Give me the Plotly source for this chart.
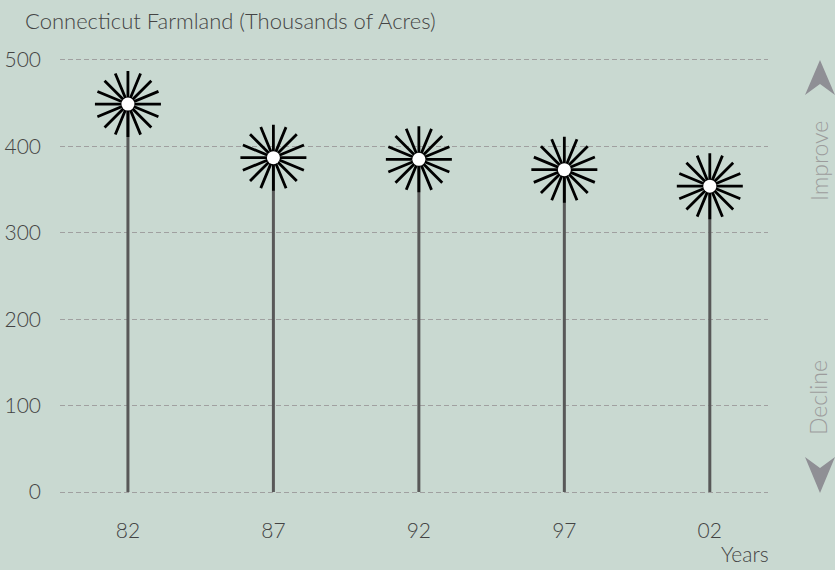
import plotly.graph_objects as go

years = ["82", "87", "92", "97", "02"]
acres = [449, 387, 385, 373, 354]
y_ticks = [0, 100, 200, 300, 400, 500]

BG = "#c9d9d1"
FONT = "Lato"
TXT = "#444444"

L, R, T, B = 60, 67, 58, 76
W, H = 835, 570
pw, ph = W - L - R, H - T - B

def px(x):
    return (x - L) / pw

def py(y):
    return (H - B - y) / ph

fig = go.Figure()

# stems
sx, sy = [], []
for yr, v in zip(years, acres):
    sx += [yr, yr, None]
    sy += [0, v, None]
fig.add_trace(go.Scatter(x=sx, y=sy, mode="lines",
                         line=dict(color="#585858", width=3),
                         hoverinfo="skip", showlegend=False, cliponaxis=False))

# flower rays
for ang in (0, 22.5):
    fig.add_trace(go.Scatter(x=years, y=acres, mode="markers",
                             marker=dict(symbol="asterisk-open", size=55, angle=ang,
                                         color="black",
                                         line=dict(color="black", width=2.8)),
                             showlegend=False, cliponaxis=False))
# center
fig.add_trace(go.Scatter(x=years, y=acres, mode="markers",
                         marker=dict(symbol="circle", size=13, color="white",
                                     line=dict(width=0)),
                         showlegend=False, cliponaxis=False))

shapes = [
    dict(type="path", xref="paper", yref="paper", layer="above",
         path=f"M{px(820)},{py(60)} L{px(805)},{py(95)} L{px(820)},{py(84)} L{px(835)},{py(95)} Z",
         fillcolor="#8f8f95", line=dict(width=0)),
    dict(type="path", xref="paper", yref="paper", layer="above",
         path=f"M{px(820)},{py(493)} L{px(805)},{py(457)} L{px(820)},{py(468)} L{px(835)},{py(457)} Z",
         fillcolor="#8f8f95", line=dict(width=0)),
]

annotations = [
    dict(text="Improve", x=px(819), y=py(161), xref="paper", yref="paper",
         xanchor="center", yanchor="middle",
         showarrow=False, textangle=-90,
         font=dict(family=FONT, size=23, color="#9c9c9c", weight=300)),
    dict(text="Decline", x=px(818), y=py(398), xref="paper", yref="paper",
         xanchor="center", yanchor="middle",
         showarrow=False, textangle=-90,
         font=dict(family=FONT, size=23, color="#9c9c9c", weight=300)),
    dict(text="Years", x=px(745), y=py(553), xref="paper", yref="paper",
         xanchor="center", yanchor="middle",
         showarrow=False, font=dict(family=FONT, size=21, color=TXT, weight=300)),
]

fig.update_layout(
    width=W, height=H,
    margin=dict(l=L, r=R, t=T, b=B, autoexpand=False),
    paper_bgcolor=BG, plot_bgcolor=BG,
    title=dict(text="Connecticut Farmland (Thousands of Acres)",
               xref="container", yref="container", x=25 / W, y=1 - 21 / H,
               xanchor="left", yanchor="middle",
               font=dict(family=FONT, size=22, color=TXT, weight=300)),
    xaxis=dict(type="category", range=[-0.467, 4.40], showgrid=False,
               zeroline=False, showline=False, ticks="", automargin=False,
               tickfont=dict(family=FONT, size=21, color=TXT, weight=300),
               ticklabelstandoff=22),
    yaxis=dict(range=[-2.3, 502.3], tickvals=y_ticks, showgrid=True,
               gridcolor="#a0a0a0", griddash="5px,3px", gridwidth=1,
               zeroline=False, showline=False, ticks="", automargin=False,
               tickfont=dict(family=FONT, size=21, color=TXT, weight=300),
               ticklabelstandoff=18),
    shapes=shapes, annotations=annotations,
    showlegend=False,
)

fig.write_html("out.html", config={"displayModeBar": False},
               post_script="document.body.style.margin='0';document.body.style.padding='0';")
